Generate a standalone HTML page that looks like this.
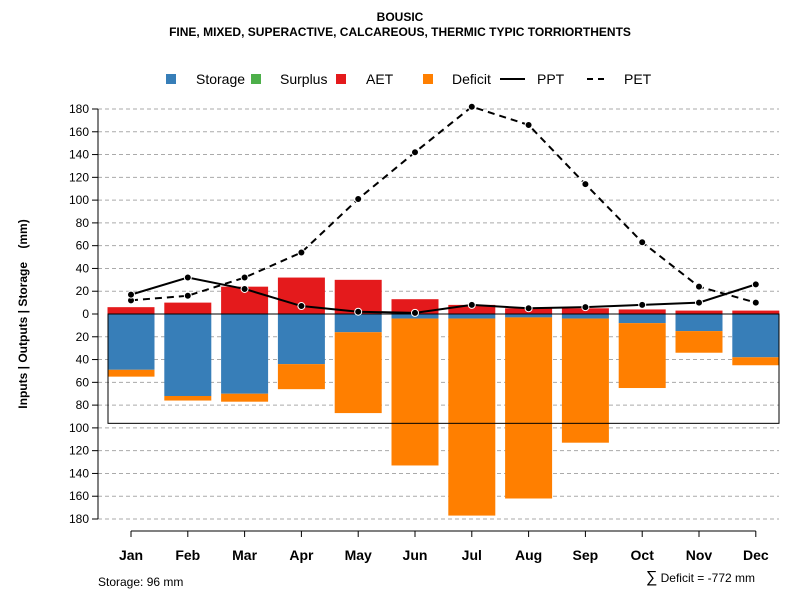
<!DOCTYPE html>
<html><head><meta charset="utf-8"><style>
body{margin:0;background:#fff}
svg text{font-family:"Liberation Sans",sans-serif}
</style></head><body>
<svg id="c" width="800" height="600" xmlns="http://www.w3.org/2000/svg">
<text x="400" y="21" text-anchor="middle" font-size="12" font-weight="bold">BOUSIC</text>
<text x="400" y="36" text-anchor="middle" font-size="12" font-weight="bold">FINE, MIXED, SUPERACTIVE, CALCAREOUS, THERMIC TYPIC TORRIORTHENTS</text>
<g id="legend" font-size="14">
<rect x="166" y="74" width="10" height="10" fill="#377eb8"/><text x="196" y="84">Storage</text>
<rect x="251" y="74" width="10" height="10" fill="#4daf4a"/><text x="280" y="84">Surplus</text>
<rect x="336" y="74" width="10" height="10" fill="#e41a1c"/><text x="366" y="84">AET</text>
<rect x="423" y="74" width="10" height="10" fill="#ff7f00"/><text x="452" y="84">Deficit</text>
<line x1="500" y1="79" x2="525" y2="79" stroke="#000" stroke-width="2"/><text x="537" y="84">PPT</text>
<line x1="587" y1="79" x2="609" y2="79" stroke="#000" stroke-width="2" stroke-dasharray="6,5"/><text x="624" y="84">PET</text>
</g>
<text transform="translate(27,314) rotate(-90)" text-anchor="middle" font-size="12" font-weight="bold">Inputs | Outputs | Storage&#160;&#160;&#160;&#160;(mm)</text>
<text x="98" y="586" font-size="12">Storage: 96 mm</text>
<text x="755" y="582" text-anchor="end" font-size="12"><tspan font-size="16">∑</tspan> Deficit = -772 mm</text>
</svg>
<script>
const months=["Jan","Feb","Mar","Apr","May","Jun","Jul","Aug","Sep","Oct","Nov","Dec"];
const aet=[6,10,24,32,30,13,8,5,5,4,3,3];
const storage=[49,72,70,44,16,4,4,3,4,8,15,38];
const deficit=[6,4,7,22,71,129,173,159,109,57,19,7];
const ppt=[17,32,22,7,2,1,8,5,6,8,10,26];
const pet=[12,16,32,54,101,142,182,166,114,63,24,10];
const yTicks=[180,160,140,120,100,80,60,40,20,0,-20,-40,-60,-80,-100,-120,-140,-160,-180];
const storageCap=96;
const NS="http://www.w3.org/2000/svg";
const svg=document.getElementById('c');
const y=v=>314-v*205/180;
const x=i=>131+i*56.8;
function mk(tag,attrs,parent){const e=document.createElementNS(NS,tag);for(const k in attrs)e.setAttribute(k,attrs[k]);(parent||svg).appendChild(e);return e;}
const grid=mk('g',{});


yTicks.forEach(t=>{
  if(t!==0){const l=mk('line',{x1:98,x2:779,y1:y(t),y2:y(t),stroke:'#aaa','stroke-dasharray':'4,3'},grid);
  
  }
  const tk=mk('line',{x1:92,x2:98,y1:y(t),y2:y(t),stroke:'#000'});
  
  
  const tx=mk('text',{x:89,y:y(t)+4,'text-anchor':'end','font-size':12});
  tx.textContent=Math.abs(t);
  
  
});
const ya=mk('line',{x1:98,x2:98,y1:y(180),y2:y(-180),stroke:'#000'});


const bw=47;
months.forEach((m,i)=>{
  const a=mk('rect',{x:x(i)-bw/2,y:y(aet[i]),width:bw,height:y(0)-y(aet[i]),fill:'#e41a1c'});
  
  
  const s=mk('rect',{x:x(i)-bw/2,y:y(0),width:bw,height:y(-storage[i])-y(0),fill:'#377eb8'});
  
  
  const d=mk('rect',{x:x(i)-bw/2,y:y(-storage[i]),width:bw,height:y(-storage[i]-deficit[i])-y(-storage[i]),fill:'#ff7f00'});
  
  
  const tk=mk('line',{x1:x(i),x2:x(i),y1:531,y2:537,stroke:'#000'});
  
  
  const tl=mk('text',{x:x(i),y:560,'text-anchor':'middle','font-size':14,'font-weight':'bold'});
  tl.textContent=m;
  
  
});
const xa=mk('line',{x1:x(0),x2:x(11),y1:531,y2:531,stroke:'#000'});


const zl=mk('line',{x1:108,x2:779,y1:y(0),y2:y(0),stroke:'#000'});


const box=mk('rect',{x:108,y:y(0),width:671,height:y(-storageCap)-y(0),fill:'none',stroke:'#000'});


function series(vals,dash,name){
  const p=mk('polyline',{points:vals.map((v,i)=>x(i)+','+y(v)).join(' '),fill:'none',stroke:'#000','stroke-width':2,'stroke-dasharray':dash});
  
  
  vals.forEach((v,i)=>{const c=mk('circle',{cx:x(i),cy:y(v),r:3.5,fill:'#000',stroke:'#fff','stroke-width':1});
  
  });
}
series(pet,'7,5','pet');
series(ppt,'none','ppt');
</script>
</body></html>
